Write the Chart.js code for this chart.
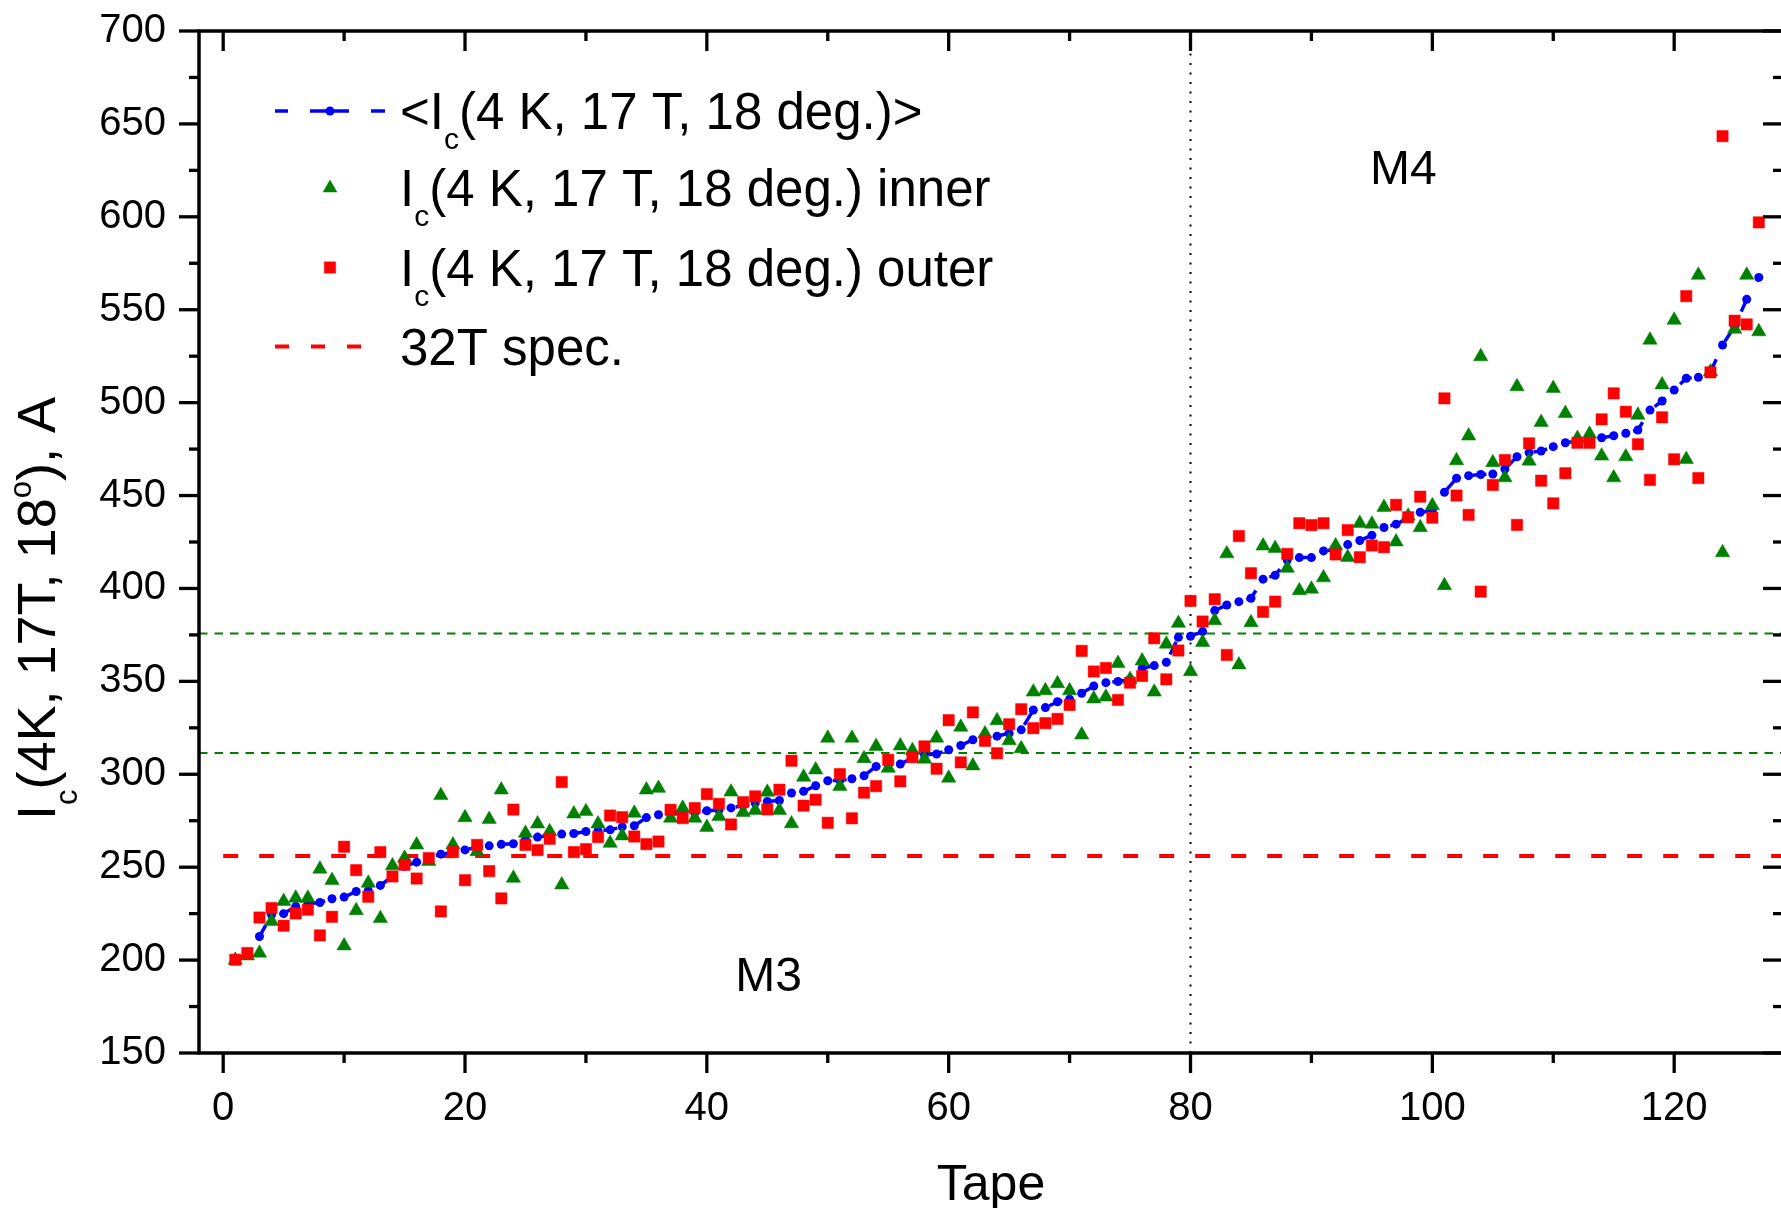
<!DOCTYPE html>
<html>
<head>
<meta charset="utf-8">
<script src="https://cdn.jsdelivr.net/npm/chart.js@4.4.1/dist/chart.umd.min.js"></script>
<style>
  html, body { margin: 0; padding: 0; background: #fff; overflow: hidden; }
  #kutu { width: 1800px; height: 1208px; }
</style>
</head>
<body>
<div id="kutu"><canvas id="grafik" width="1800" height="1208"></canvas></div>
<script>
// ============================================
// DATA — Ic per tape, sorted by the mean value
// ============================================
const TAPE = Array.from({ length: 127 }, (_, i) => i + 1);

const IC_MEAN = [
  200.2, 202.9, 212.7, 224.4, 225.0, 228.9, 230.3, 231.0, 233.0, 233.9,
  236.9, 237.3, 240.2, 245.0, 250.4, 252.7, 254.9, 257.0, 257.9, 259.3,
  260.8, 261.5, 262.3, 262.6, 264.7, 266.2, 267.1, 267.8, 268.1, 269.2,
  269.7, 270.1, 271.7, 272.3, 276.7, 278.2, 278.7, 279.1, 279.3, 280.4,
  280.7, 281.9, 283.1, 284.5, 285.4, 285.9, 289.9, 290.8, 293.8, 296.5,
  296.7, 297.6, 299.2, 304.2, 305.1, 305.5, 308.7, 310.5, 310.9, 313.2,
  315.5, 318.6, 320.0, 320.5, 322.1, 323.9, 334.6, 335.9, 339.0, 340.4,
  343.6, 347.5, 349.3, 349.9, 351.0, 357.0, 358.5, 360.3, 373.7, 374.3,
  376.8, 388.1, 391.1, 392.9, 394.7, 405.0, 407.1, 415.3, 416.6, 416.6,
  420.2, 420.8, 423.6, 425.8, 428.6, 432.8, 434.6, 437.8, 441.0, 441.8,
  451.8, 459.3, 460.7, 461.3, 461.6, 464.3, 470.9, 473.1, 474.0, 476.3,
  478.4, 479.3, 480.3, 481.1, 482.2, 483.5, 485.3, 496.0, 500.9, 506.8,
  513.1, 513.6, 516.3, 531.0, 541.0, 555.6, 567.4
];

const IC_INNER = [
  200.0, 202.3, 203.8, 220.8, 231.6, 233.4, 233.4, 249.0, 242.9, 207.7,
  226.7, 241.4, 222.4, 250.8, 254.9, 262.0, 253.1, 288.6, 262.0, 276.7,
  258.4, 275.8, 291.6, 244.1, 268.3, 273.3, 269.2, 240.5, 278.7, 280.0,
  273.3, 262.9, 266.9, 279.1, 291.6, 292.5, 276.4, 281.8, 276.4, 271.5,
  277.3, 290.5, 279.5, 280.6, 290.4, 280.6, 273.4, 298.5, 302.4, 319.5,
  293.5, 319.5, 308.5, 315.0, 303.3, 315.3, 312.8, 308.2, 319.5, 298.0,
  325.4, 304.6, 321.8, 328.9, 318.1, 313.8, 344.3, 345.0, 348.8, 345.0,
  321.2, 340.6, 341.6, 359.7, 351.1, 361.0, 344.3, 370.1, 381.3, 355.3,
  371.0, 382.7, 418.7, 358.9, 381.6, 422.9, 421.6, 410.9, 398.8, 399.7,
  405.8, 423.0, 416.8, 435.1, 434.7, 443.7, 425.1, 439.0, 432.8, 444.6,
  401.6, 468.8, 482.1, 524.8, 467.7, 459.6, 508.6, 468.6, 489.4, 507.7,
  494.2, 480.8, 483.1, 471.3, 459.6, 470.9, 493.3, 533.7, 509.6, 544.4,
  469.5, 568.6, 516.6, 419.3, 539.6, 568.6, 538.2
];

const IC_OUTER = [
  200.2, 203.8, 222.9, 228.0, 218.5, 225.1, 227.1, 213.3, 223.3, 261.0,
  248.4, 234.1, 258.1, 245.0, 251.3, 243.9, 254.9, 226.2, 258.1, 243.0,
  262.0, 247.9, 233.2, 281.0, 262.0, 259.2, 265.3, 295.8, 258.1, 259.7,
  266.2, 277.8, 276.9, 266.5, 262.4, 263.8, 280.9, 276.4, 281.8, 289.3,
  284.1, 273.0, 285.0, 288.1, 281.1, 291.7, 307.3, 283.1, 286.3, 273.9,
  300.1, 276.3, 290.1, 293.6, 307.8, 296.2, 309.2, 315.0, 303.0, 329.1,
  306.4, 333.3, 318.0, 311.3, 326.9, 335.0, 324.8, 327.5, 329.8, 337.3,
  366.4, 355.3, 357.2, 340.0, 349.3, 352.9, 373.2, 351.1, 366.6, 393.3,
  382.2, 394.2, 364.2, 428.2, 408.2, 387.4, 392.9, 418.6, 435.1, 434.1,
  435.1, 418.3, 431.4, 416.8, 423.1, 422.2, 445.0, 438.3, 449.4, 438.1,
  502.3, 450.0, 439.6, 398.3, 455.7, 469.1, 434.2, 478.1, 458.0, 445.8,
  462.0, 478.4, 478.4, 491.0, 505.0, 495.1, 477.6, 458.4, 492.1, 469.5,
  557.3, 459.4, 516.3, 643.4, 544.1, 542.1, 597.0
];

// reference levels
const SPEC_32T = 256;          // red dashed
const GREEN_LEVELS = [311.5, 375.7];
const SPLIT_TAPE = 80;         // M3 | M4

// axes
const X_MIN = -2, X_MAX = 129;
const Y_MIN = 150, Y_MAX = 700;
const X_TICKS = [0, 20, 40, 60, 80, 100, 120];
const X_MINOR = [10, 30, 50, 70, 90, 110];
const Y_TICKS = [150, 200, 250, 300, 350, 400, 450, 500, 550, 600, 650, 700];
const Y_MINOR = [175, 225, 275, 325, 375, 425, 475, 525, 575, 625, 675];

const FONT = "'Liberation Sans', Arial, Helvetica, sans-serif";
const BLUE = "#0000ff", GREEN = "#008000", RED = "#ff0000";

// ============================================
// TEXT WITH SUB / SUPERSCRIPTS
// ============================================
function yaziCiz(ctx, x, y, parcalar, boy) {
  parcalar.forEach(p => {
    const kucuk = p.sub || p.sup;
    ctx.font = (kucuk ? Math.round(boy * 0.58) : boy) + "px " + FONT;
    const dy = p.sub ? boy * 0.4 : (p.sup ? -boy * 0.45 : 0);
    ctx.fillText(p.t, x, y + dy);
    x += ctx.measureText(p.t).width;
  });
}

// ============================================
// FRAME, TICKS, TITLES, LABELS, LEGEND
// ============================================
const cerceve = {
  id: "cerceve",
  afterDraw(chart) {
    const ctx = chart.ctx;
    const { left, right, top, bottom } = chart.chartArea;
    const xs = chart.scales.x, ys = chart.scales.y;
    ctx.save();
    ctx.strokeStyle = "#000";
    ctx.fillStyle = "#000";
    ctx.lineWidth = 3.5;
    ctx.lineCap = "butt";
    ctx.strokeRect(left, top, right - left, bottom - top);

    const cizgi = (x1, y1, x2, y2) => {
      ctx.beginPath(); ctx.moveTo(x1, y1); ctx.lineTo(x2, y2); ctx.stroke();
    };
    // y ticks: outward on the left, inward on the right
    ctx.lineWidth = 3.3;
    Y_TICKS.forEach(v => { const p = ys.getPixelForValue(v); cizgi(left - 20, p, left, p); cizgi(right, p, right - 20, p); });
    Y_MINOR.forEach(v => { const p = ys.getPixelForValue(v); cizgi(left - 10, p, left, p); cizgi(right, p, right - 10, p); });
    // x ticks: outward at the bottom, inward at the top
    X_TICKS.forEach(v => { const p = xs.getPixelForValue(v); cizgi(p, bottom, p, bottom + 20); cizgi(p, top, p, top + 20); });
    X_MINOR.forEach(v => { const p = xs.getPixelForValue(v); cizgi(p, bottom, p, bottom + 10); cizgi(p, top, p, top + 10); });

    // axis titles
    ctx.textBaseline = "alphabetic";
    ctx.textAlign = "center";
    ctx.font = "50px " + FONT;
    ctx.fillText("Tape", (left + right) / 2, 1200);

    ctx.save();
    ctx.translate(55, 820);
    ctx.rotate(-Math.PI / 2);
    ctx.textAlign = "left";
    yaziCiz(ctx, 0, 0, [{ t: "I" }, { t: "c", sub: true }, { t: "(4K, 17T, 18" }, { t: "o", sup: true }, { t: "), A" }], 54);
    ctx.restore();

    // region labels
    ctx.textAlign = "center";
    ctx.font = "48px " + FONT;
    ctx.fillText("M3", xs.getPixelForValue(45.1), ys.getPixelForValue(192.5) + 17);
    ctx.fillText("M4", xs.getPixelForValue(97.6), ys.getPixelForValue(627) + 17);

    // legend
    ctx.textAlign = "left";
    const satirlar = [111, 188, 267.5, 346.5];
    const metinX = 400;
    // 1: mean, dashed blue with dot
    ctx.strokeStyle = BLUE; ctx.lineWidth = 3.5;
    [[275, 288], [310, 349], [371, 385]].forEach(([a, b]) => cizgi(a, satirlar[0], b, satirlar[0]));
    ctx.fillStyle = BLUE; ctx.beginPath(); ctx.arc(330, satirlar[0], 4.5, 0, Math.PI * 2); ctx.fill();
    // 2: inner triangle
    ctx.fillStyle = GREEN; ctx.strokeStyle = GREEN; ctx.lineWidth = 0.5;
    Chart.helpers.drawPoint(ctx, { pointStyle: "triangle", radius: 8, borderWidth: 0.5 }, 330, satirlar[1]);
    // 3: outer square
    ctx.fillStyle = RED; ctx.strokeStyle = RED;
    Chart.helpers.drawPoint(ctx, { pointStyle: "rect", radius: 8, borderWidth: 0.5 }, 330, satirlar[2]);
    // 4: spec line
    ctx.lineWidth = 4; ctx.setLineDash([14, 22]);
    cizgi(275, satirlar[3], 362, satirlar[3]);
    ctx.setLineDash([]);

    ctx.fillStyle = "#000";
    const etiketler = [
      [{ t: "<I" }, { t: "c", sub: true }, { t: "(4 K, 17 T, 18 deg.)>" }],
      [{ t: "I" }, { t: "c", sub: true }, { t: "(4 K, 17 T, 18 deg.) inner" }],
      [{ t: "I" }, { t: "c", sub: true }, { t: "(4 K, 17 T, 18 deg.) outer" }],
      [{ t: "32T spec." }]
    ];
    etiketler.forEach((e, i) => yaziCiz(ctx, metinX, satirlar[i] + 18, e, 51));
    ctx.restore();
  }
};

// ============================================
// CHART
// ============================================
const noktalar = seri => TAPE.map((t, i) => ({ x: t, y: seri[i] }));

const datasets = [
  { type: "scatter", label: "outer", data: noktalar(IC_OUTER), order: 1,
    pointStyle: "rect", pointRadius: 8, backgroundColor: RED, borderColor: RED, borderWidth: 0.5, showLine: false },
  { type: "scatter", label: "inner", data: noktalar(IC_INNER), order: 2,
    pointStyle: "triangle", pointRadius: 8.3, backgroundColor: GREEN, borderColor: GREEN, borderWidth: 0.5, showLine: false },
  { type: "line", label: "mean", data: noktalar(IC_MEAN), order: 3,
    borderColor: BLUE, backgroundColor: BLUE, borderWidth: 3.5, borderDash: [14, 20],
    pointRadius: 4.5, pointBorderWidth: 0, pointBackgroundColor: BLUE, tension: 0, fill: false },
  { type: "line", label: "32T spec.", data: [{ x: 0, y: SPEC_32T }, { x: X_MAX, y: SPEC_32T }], order: 4,
    borderColor: RED, borderWidth: 4, borderDash: [15, 21], pointRadius: 0, fill: false },
  ...GREEN_LEVELS.map(v => ({ type: "line", label: "level", data: [{ x: X_MIN, y: v }, { x: X_MAX, y: v }], order: 5,
    borderColor: GREEN, borderWidth: 2, borderDash: [8.5, 7], pointRadius: 0, fill: false })),
  { type: "line", label: "split", data: [{ x: SPLIT_TAPE, y: Y_MIN }, { x: SPLIT_TAPE, y: Y_MAX }], order: 6,
    borderColor: "#000", borderWidth: 2, borderDash: [2, 7.5], pointRadius: 0, fill: false }
];

// tick marks are drawn by the frame plugin; the library's own (invisible)
// tick length only sets the gap between axis and labels
const eksenOrtak = tl => ({
  grid: { display: true, drawOnChartArea: false, drawTicks: true, tickLength: tl, tickColor: "rgba(0,0,0,0)" },
  border: { display: false }
});

new Chart(document.getElementById("grafik"), {
  type: "scatter",
  data: { datasets },
  options: {
    responsive: false,
    animation: false,
    devicePixelRatio: 1,
    layout: { padding: { top: 31, right: 17, left: 0, bottom: 0 } },
    plugins: { legend: { display: false }, tooltip: { enabled: false } },
    scales: {
      x: {
        type: "linear", position: "bottom", min: X_MIN, max: X_MAX, ...eksenOrtak(32),
        ticks: { font: { family: FONT, size: 40 }, color: "#000", padding: 0, maxRotation: 0, autoSkip: false },
        afterBuildTicks: s => { s.ticks = X_TICKS.map(v => ({ value: v })); },
        afterFit: s => { s.height = 155; }
      },
      y: {
        type: "linear", position: "left", min: Y_MIN, max: Y_MAX, ...eksenOrtak(33),
        ticks: { font: { family: FONT, size: 40 }, color: "#000", padding: 0, autoSkip: false },
        afterBuildTicks: s => { s.ticks = Y_TICKS.map(v => ({ value: v })); },
        afterFit: s => { s.width = 199; }
      }
    }
  },
  plugins: [cerceve]
});
</script>
</body>
</html>
